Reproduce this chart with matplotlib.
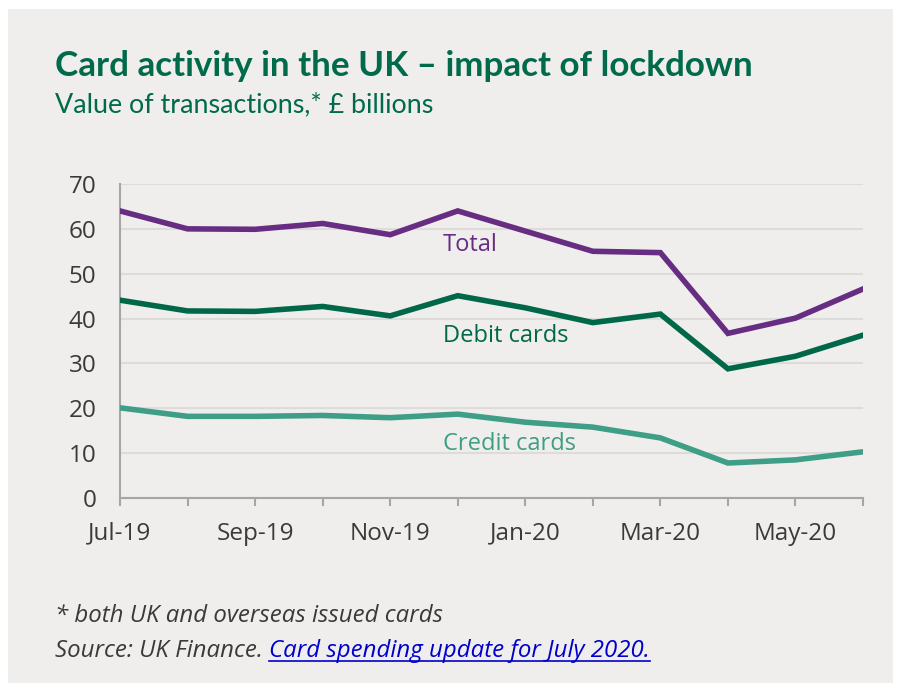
import matplotlib
matplotlib.use("Agg")
import matplotlib.pyplot as plt
from matplotlib.patches import Rectangle

months = ["Jul-19", "Aug-19", "Sep-19", "Oct-19", "Nov-19", "Dec-19",
          "Jan-20", "Feb-20", "Mar-20", "Apr-20", "May-20", "Jun-20"]
total = [64.0, 60.0, 59.9, 61.2, 58.7, 64.0, 59.5, 55.0, 54.7, 36.7, 40.1, 46.6]
debit = [44.1, 41.7, 41.6, 42.7, 40.6, 45.1, 42.4, 39.1, 41.0, 28.8, 31.6, 36.3]
credit = [20.1, 18.2, 18.2, 18.4, 17.9, 18.7, 16.9, 15.8, 13.4, 7.8, 8.5, 10.3]
yticks = [0, 10, 20, 30, 40, 50, 60, 70]

BG = "#efeeec"
C_TOTAL = "#662d82"
C_DEBIT = "#006848"
C_CREDIT = "#3f9e86"
C_TITLE = "#006a4b"
C_TEXT = "#3a3a3a"

W, H = 902, 692
fig = plt.figure(figsize=(W / 100, H / 100), dpi=100, facecolor="white")
fig.patches.append(Rectangle((8 / W, 9 / H), (893 - 8) / W, (683 - 9) / H,
                             transform=fig.transFigure, facecolor=BG,
                             edgecolor="none", zorder=-10))

ax = fig.add_axes([120 / W, 1 - 498 / H, (863 - 120) / W, (498 - 184) / H])
ax.patch.set_alpha(0)

x = list(range(len(months)))
ax.plot(x, total, color=C_TOTAL, lw=4, solid_joinstyle="miter", zorder=3)
ax.plot(x, debit, color=C_DEBIT, lw=4, solid_joinstyle="miter", zorder=3)
ax.plot(x, credit, color=C_CREDIT, lw=4, solid_joinstyle="miter", zorder=3)

ax.set_xlim(0, len(months) - 1)
ax.set_ylim(0, 70)
ax.set_yticks(yticks)
ax.set_xticks(x)
ax.set_xticklabels([m if i % 2 == 0 else "" for i, m in enumerate(months)])
ax.grid(axis="y", color="#dddcda", lw=1.5, zorder=1)
ax.set_axisbelow(True)
for s in ["top", "right"]:
    ax.spines[s].set_visible(False)
for s in ["left", "bottom"]:
    ax.spines[s].set_color("#a6a6a6")
    ax.spines[s].set_linewidth(1.5)
ax.tick_params(axis="y", length=0, pad=17, labelsize=17.5, labelcolor=C_TEXT)
ax.tick_params(axis="x", length=6, width=1.5, color="#a6a6a6", pad=11,
               labelsize=17.5, labelcolor=C_TEXT, direction="out")
for lab in ax.get_xticklabels() + ax.get_yticklabels():
    lab.set_fontfamily("Open Sans")

ax.text(4.78, 56.3, "Total", color=C_TOTAL, fontsize=17, family="Open Sans",
        va="center", ha="left")
ax.text(4.78, 36.2, "Debit cards", color=C_DEBIT, fontsize=17, family="Open Sans",
        va="center", ha="left")
ax.text(4.78, 12.0, "Credit cards", color=C_CREDIT, fontsize=17, family="Open Sans",
        va="center", ha="left")

fig.text(55 / W, 1 - 66 / H, "Card activity in the UK \u2013 impact of lockdown",
         color=C_TITLE, fontsize=25.2, fontweight="bold", family="Lato",
         va="center", ha="left")
fig.text(55 / W, 1 - 105 / H, "Value of transactions,* \u00a3 billions",
         color=C_TITLE, fontsize=19.4, family="Lato", va="center", ha="left")

fig.text(55 / W, 1 - 616 / H, "* both UK and overseas issued cards",
         color=C_TEXT, fontsize=17.3, style="italic", family="Open Sans",
         va="center", ha="left")
src = fig.text(55 / W, 1 - 651 / H, "Source: UK Finance. ",
               color=C_TEXT, fontsize=17.3, style="italic", family="Open Sans",
               va="center", ha="left")
fig.canvas.draw()
bb = src.get_window_extent()
link = fig.text(bb.x1 / W, 1 - 651 / H, "Card spending update for July 2020.",
                color="#0000cc", fontsize=17.3, style="italic", family="Open Sans",
                va="center", ha="left")
fig.canvas.draw()
lb = link.get_window_extent()
fig.add_artist(plt.Line2D([lb.x0 / W, lb.x1 / W], [(lb.y0 + 2) / H, (lb.y0 + 2) / H],
                          color="#0000cc", lw=1.2, transform=fig.transFigure))

fig.savefig("out.png", dpi=100, facecolor="white")
